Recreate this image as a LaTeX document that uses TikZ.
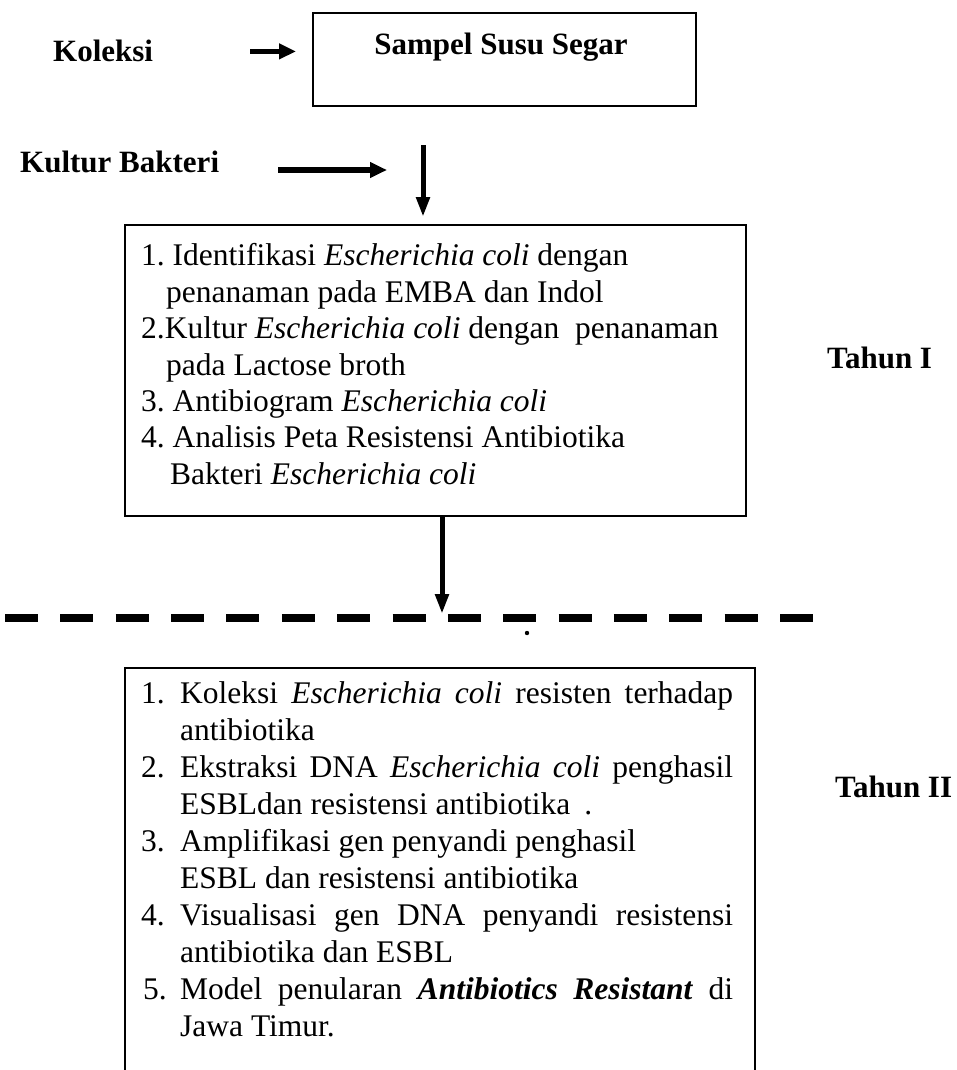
\documentclass[tikz,border=0pt]{standalone}
\usepackage{fontspec}
\setmainfont{Liberation Serif}
\usetikzlibrary{arrows.meta}
\frenchspacing
\begin{document}
\begin{tikzpicture}[x=1pt,y=-1pt,
  txt/.style={anchor=base west, inner sep=0pt, font=\fontsize{31.5}{36}\selectfont},
  lbl/.style={anchor=base west, inner sep=0pt, font=\fontsize{31}{36}\selectfont\bfseries},
  boxline/.style={draw, line width=2pt},
  thickarrow/.style={line width=5.5pt, -{Triangle[length=17pt,width=15pt]}},
  vertarrow/.style={line width=5pt, -{Triangle[length=20pt,width=13pt]}},
  sepline/.style={line width=8.5pt, dash pattern=on 33pt off 22.36pt}
  ]
\useasboundingbox (0,0) rectangle (956,1070);

% top row
\node[lbl] (kol) at (53,62) {Koleksi};
\node[boxline, minimum width=383pt, minimum height=93pt, inner sep=0pt] (top) at (504.5,59.5) {};
\node[lbl, anchor=base] (sampel) at (501,55) {Sampel Susu Segar};
\draw[thickarrow] ([xshift=97pt]kol.east) -- ([xshift=-16pt]top.west |- kol.east);

% Kultur Bakteri
\node[lbl] (kul) at (20,172) {Kultur Bakteri};
\coordinate (k1) at (278,170);
\coordinate (k2) at (387,170);
\draw[thickarrow] (k1) -- (k2);

% box 1
\node[boxline, minimum width=621pt, minimum height=291pt, inner sep=0pt] (box1) at (435.5,370.5) {};
\coordinate (v1) at (423,145);
\draw[vertarrow] (v1) -- ([yshift=7pt]box1.north -| v1);

\node[txt] (b1l1) at (141,265) {1. Identifikasi \textit{Escherichia coli} dengan};
\node[txt] (b1l2) at (166,302) {penanaman pada EMBA dan Indol};
\node[txt] (b1l3) at (141,338) {2.Kultur \textit{Escherichia coli} dengan\ \ penanaman};
\node[txt] (b1l4) at (166,375) {pada Lactose broth};
\node[txt] (b1l5) at (141,411) {3. Antibiogram \textit{Escherichia coli}};
\node[txt] (b1l6) at (141,447) {4. Analisis Peta Resistensi Antibiotika};
\node[txt] (b1l7) at (170,484) {Bakteri \textit{Escherichia coli}};

\node[lbl] (th1) at (827,368) {Tahun I};

% separator
\coordinate (d0) at (5,618);
\coordinate (d1) at (813,618);
\draw[sepline] (d0) -- (d1);
\coordinate (dl) at (442,614);
\draw[vertarrow] (box1.south -| dl) -- (dl);
\fill (527,633) circle (2.2pt);

% box 2 (bottom edge outside the picture)
\coordinate (b2a) at (125,1072);
\coordinate (b2b) at (125,668);
\coordinate (b2c) at (755,668);
\coordinate (b2d) at (755,1072);
\draw[boxline] (b2a) -- (b2b) -- (b2c) -- (b2d);

\node[txt] (n1) at (141,703) {1.};
\node[txt] (t1) at (180,703) {\makebox[553pt][s]{Koleksi \textit{Escherichia coli} resisten terhadap}};
\node[txt] (t2) at (180,740) {antibiotika};
\node[txt] (n2) at (141,777) {2.};
\node[txt] (t3) at (180,777) {\makebox[553pt][s]{Ekstraksi DNA \textit{Escherichia coli} penghasil}};
\node[txt] (t4) at (180,814) {ESBLdan resistensi antibiotika\hspace{14pt}.};
\node[txt] (n3) at (141,851) {3.};
\node[txt] (t5) at (180,851) {Amplifikasi gen penyandi penghasil};
\node[txt] (t6) at (180,888) {ESBL dan resistensi antibiotika};
\node[txt] (n4) at (141,925) {4.};
\node[txt] (t7) at (180,925) {\makebox[553pt][s]{Visualisasi gen DNA penyandi resistensi}};
\node[txt] (t8) at (180,962) {antibiotika dan ESBL};
\node[txt] (n5) at (143,999) {5.};
\node[txt] (t9) at (180,999) {\makebox[553pt][s]{Model penularan \textbf{\textit{Antibiotics Resistant}} di}};
\node[txt] (t10) at (180,1036) {Jawa Timur.};

\node[lbl] (th2) at (835,797) {Tahun II};
\end{tikzpicture}
\end{document}
